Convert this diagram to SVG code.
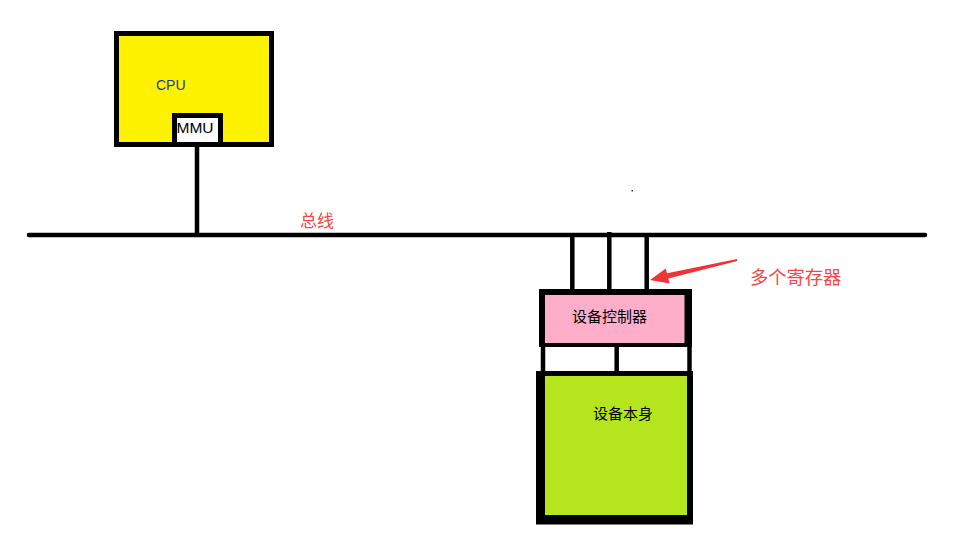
<svg xmlns="http://www.w3.org/2000/svg" width="954" height="553" viewBox="0 0 954 553">
  <style>
    .ln { stroke: #000; stroke-width: 4.5; fill: none; }
    .blk { fill: #000; }
    .cjk { font-family: "Noto Sans CJK SC", "Noto Sans", sans-serif; }
    .lat { font-family: "Liberation Sans", Arial, sans-serif; }
    .red { fill: #f24848; }
  </style>
  <rect width="954" height="553" fill="#fff"/>

  <g id="connectors">
    <line id="bus" x1="29" y1="235" x2="925" y2="235" stroke="#000" stroke-width="4.5" stroke-linecap="round"/>
    <line class="ln" x1="197" y1="146" x2="197" y2="235"/>
    <line class="ln" x1="572.3" y1="235" x2="572.3" y2="290"/>
    <line class="ln" x1="609.3" y1="232" x2="609.3" y2="290"/>
    <line class="ln" x1="646.7" y1="235" x2="646.7" y2="290"/>
    <line class="ln" x1="543" y1="346" x2="543" y2="372"/>
    <line class="ln" x1="616.7" y1="346" x2="616.7" y2="376"/>
    <line class="ln" x1="689.5" y1="346" x2="689.5" y2="372"/>
    <polygon id="arrow" fill="#ee3535" points="737,259 737.3,261 668.3,278.6 669.5,283.5 650,280 665.8,268.5 667,273.3"/>
    <rect x="631.5" y="190" width="1.5" height="1.5" fill="#333"/>
  </g>

  <g id="cpu">
    <rect class="blk" x="114" y="31" width="160" height="116"/>
    <rect x="119" y="36" width="150" height="106" fill="#fff200"/>
    <text class="lat" x="156" y="90.3" font-size="14" fill="#1a3aa8">CPU</text>
  </g>

  <g id="mmu">
    <rect class="blk" x="172" y="113" width="51" height="34"/>
    <rect x="177" y="118" width="41" height="24" fill="#fff"/>
    <text class="lat" x="176.5" y="133.3" font-size="15.5" fill="#000">MMU</text>
  </g>

  <g id="bus-label">
    <text class="cjk red" x="300" y="227" font-size="17">总线</text>
  </g>

  <g id="registers-label">
    <text class="cjk red" x="750" y="284" font-size="18.3">多个寄存器</text>
  </g>

  <g id="controller">
    <rect class="blk" x="539" y="289" width="153" height="58"/>
    <rect x="545" y="295" width="139.5" height="48" fill="#ffaec9"/>
    <text class="cjk" x="572" y="322" font-size="15" fill="#000">设备控制器</text>
  </g>

  <g id="device">
    <rect class="blk" x="536" y="371" width="157" height="153.5"/>
    <rect x="545" y="376" width="142" height="139" fill="#b5e61d"/>
    <text class="cjk" x="593" y="419" font-size="15" fill="#000">设备本身</text>
  </g>
</svg>
